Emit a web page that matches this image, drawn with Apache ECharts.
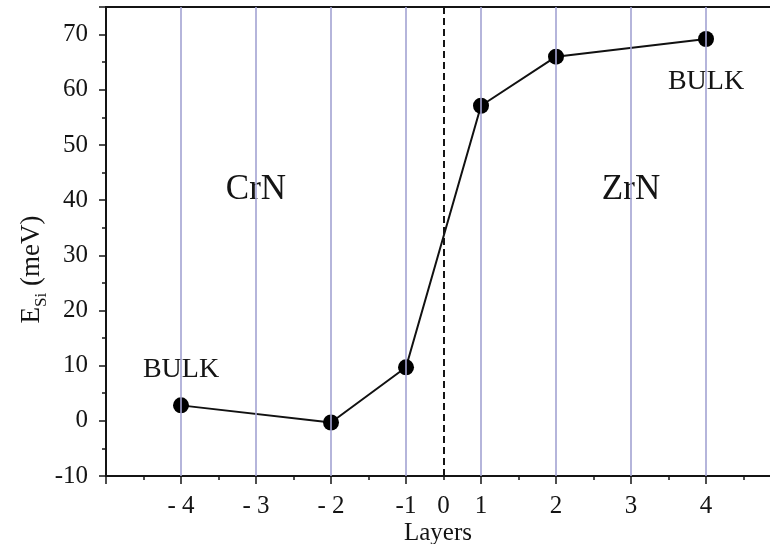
<!DOCTYPE html>
<html>
<head>
<meta charset="utf-8">
<script src="https://cdn.jsdelivr.net/npm/echarts@6/dist/echarts.min.js"></script>
<style>html,body{margin:0;padding:0;background:#fff}#c{width:770px;height:544px}</style>
</head>
<body>
<div id="c"></div>
<script>
// ---- data ----
const layers = [-4, -2, -1, 1, 2, 4];
const energy = [2.8, -0.3, 9.7, 57.1, 66.0, 69.2];
const tickLayers = [-4, -3, -2, -1, 0, 1, 2, 3, 4];
const tickLabels = ['- 4', '- 3', '- 2', '-1', '0', '1', '2', '3', '4'];
const layerLines = [-4, -3, -2, -1, 1, 2, 3, 4];
const interfaceLayer = 0;
const noteText = ['BULK', 'CrN', 'ZrN', 'BULK'];
const noteLayer = [-4, -3, 3, 4];
const noteY = [9.2, 41.8, 41.8, 61.4];

// layer index -> axis position (interface 0 sits halfway between -1 and 1)
function pos(L) { return L < 0 ? L + 0.5 : (L > 0 ? L - 0.5 : 0); }

const labelPos = tickLayers.map(pos);
const majorTicks = [-4.5].concat(tickLayers.filter(l => l !== 0).map(pos));
const minorTicks = majorTicks.map(p => p + 0.5);
const labelMap = {};
labelPos.forEach((p, i) => { labelMap[p.toFixed(2)] = tickLabels[i]; });

const serif = 'Liberation Serif';
const lineColor = '#a3a3d2';
const ink = '#141414';

const chart = echarts.init(document.getElementById('c'));
chart.setOption({
  animation: false,
  backgroundColor: '#fff',
  grid: { left: 106, right: 0, top: 7, bottom: 68, containLabel: false, outerBoundsMode: 'none' },
  xAxis: [
    {
      type: 'value', min: -4.5, max: 4.353, position: 'bottom',
      name: 'Layers', nameLocation: 'middle', nameGap: 45, nameMoveOverlap: false,
      nameTextStyle: { fontFamily: serif, fontSize: 25, color: ink },
      axisLine: { show: true, onZero: false, lineStyle: { color: ink, width: 2 } },
      axisTick: { show: true, customValues: majorTicks, length: 8, lineStyle: { color: ink, width: 1.5 } },
      axisLabel: {
        customValues: labelPos, margin: 18,
        fontFamily: serif, fontSize: 25, color: ink,
        formatter: v => labelMap[Number(v).toFixed(2)] || ''
      },
      splitLine: { show: false }
    },
    {
      type: 'value', min: -4.5, max: 4.353, position: 'bottom',
      axisLine: { show: false, onZero: false },
      axisTick: { show: true, customValues: minorTicks, length: 4, lineStyle: { color: ink, width: 1.5 } },
      axisLabel: { show: false },
      splitLine: { show: false }
    },
    {
      type: 'value', min: -4.5, max: 4.353, position: 'top',
      axisLine: { show: true, onZero: false, lineStyle: { color: ink, width: 2 } },
      axisTick: { show: false }, axisLabel: { show: false }, splitLine: { show: false }
    }
  ],
  yAxis: {
    type: 'value', min: -10, max: 75, interval: 10,
    name: '{e|E}{s|Si}{e| (meV)}', nameLocation: 'middle', nameRotate: 90, nameGap: 56, nameMoveOverlap: false,
    nameTextStyle: {
      padding: [0, 56, 0, 0],
      rich: {
        e: { fontFamily: serif, fontSize: 27, color: ink, lineHeight: 36, verticalAlign: 'middle' },
        s: { fontFamily: serif, fontSize: 17, color: ink, lineHeight: 36, verticalAlign: 'bottom' }
      }
    },
    axisLine: { show: true, onZero: false, lineStyle: { color: ink, width: 2 } },
    axisTick: { show: true, length: 7, lineStyle: { color: ink, width: 1.5 } },
    minorTick: { show: true, splitNumber: 2, length: 4, lineStyle: { color: ink, width: 1.5 } },
    axisLabel: { margin: 18, fontFamily: serif, fontSize: 25, color: ink, showMaxLabel: false },
    splitLine: { show: false }
  },
  series: [
    {
      type: 'line', data: [], z: 1, silent: true,
      markLine: {
        silent: true, symbol: 'none', animation: false,
        label: { show: false },
        data: layerLines.map(l => ({ xAxis: pos(l), lineStyle: { color: lineColor, width: 1.6, type: 'solid' } }))
          .concat([{ xAxis: pos(interfaceLayer), lineStyle: { color: ink, width: 2, type: [7, 4] } }])
      }
    },
    {
      type: 'custom', z: 2, silent: true,
      data: noteText.map((t, i) => [pos(noteLayer[i]), noteY[i], i]),
      renderItem: function (params, api) {
        const p = api.coord([api.value(0), api.value(1)]);
        const t = noteText[api.value(2)];
        const big = t !== 'BULK';
        const gapH = big ? 62 : 48;
        return {
          type: 'group',
          children: [
            { type: 'rect', shape: { x: p[0] - 6, y: p[1] - gapH / 2, width: 12, height: gapH }, style: { fill: '#fff' } },
            { type: 'text', x: p[0], y: p[1], style: {
                text: t, fill: ink, align: 'center', verticalAlign: 'middle',
                font: (big ? 35 : 28) + 'px "Liberation Serif"'
            } }
          ]
        };
      }
    },
    {
      type: 'line', z: 3,
      data: layers.map((l, i) => [pos(l), energy[i]]),
      symbol: 'circle', symbolSize: 16,
      itemStyle: { color: '#000' },
      lineStyle: { color: '#111', width: 2 }
    }
  ]
});
</script>
</body>
</html>
